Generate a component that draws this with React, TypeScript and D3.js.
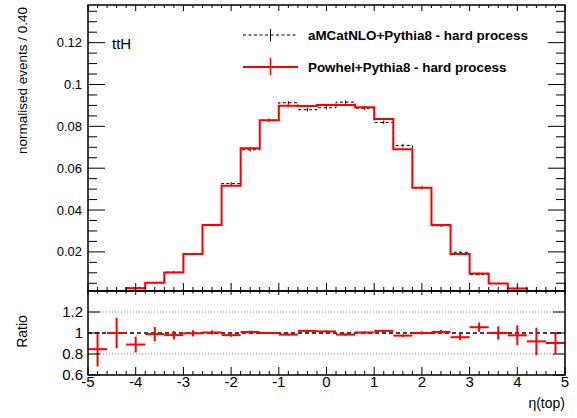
import React from "react";
import * as d3 from "d3";

// Bin edges: 25 bins of width 0.4 in eta(top)
const binLow = -5;
const binWidth = 0.4;

// Powheg+Pythia8 normalised yields per bin
const powhegValues = [
  0.0004, 0.0011, 0.0026, 0.0052, 0.0101, 0.019, 0.0329, 0.0516, 0.0695, 0.0829,
  0.0899, 0.0897, 0.0902, 0.0902, 0.0891, 0.0835, 0.0691, 0.0506, 0.0328, 0.019,
  0.0097, 0.0049, 0.0025, 0.0011, 0.0004,
];

// aMCatNLO+Pythia8 normalised yields per bin
const amcValues = [
  0.00047, 0.0011, 0.00292, 0.00525, 0.0103, 0.01906, 0.03274, 0.05265, 0.06881, 0.0829,
  0.09127, 0.08794, 0.08887, 0.09157, 0.08866, 0.08186, 0.07087, 0.0506, 0.03248, 0.01979,
  0.00919, 0.0049, 0.00256, 0.0012, 0.00044,
];

// statistical uncertainties on the top-panel histograms
const amcErrors = [
  0.0001, 0.0001, 0.0002, 0.0003, 0.0004, 0.0005, 0.0006, 0.0007, 0.0008, 0.0008,
  0.0008, 0.0008, 0.0008, 0.0008, 0.0008, 0.0008, 0.0008, 0.0007, 0.0006, 0.0005,
  0.0004, 0.0003, 0.0002, 0.0001, 0.0001,
];
const powhegErrors = [
  0.0001, 0.0001, 0.0001, 0.0002, 0.0003, 0.0003, 0.0004, 0.0005, 0.0005, 0.0006,
  0.0006, 0.0006, 0.0006, 0.0006, 0.0006, 0.0006, 0.0005, 0.0005, 0.0004, 0.0003,
  0.0003, 0.0002, 0.0001, 0.0001, 0.0001,
];

// Powheg / aMCatNLO ratio and its uncertainty
const ratioValues = [
  0.846, 1.0, 0.89, 0.99, 0.98, 0.997, 1.005, 0.98, 1.01, 1.0,
  0.985, 1.02, 1.015, 0.985, 1.005, 1.02, 0.975, 1.0, 1.01, 0.96,
  1.055, 1.0, 0.978, 0.92, 0.905,
];
const ratioErrors = [
  0.165, 0.145, 0.075, 0.067, 0.04, 0.03, 0.02, 0.015, 0.012, 0.01,
  0.01, 0.01, 0.01, 0.01, 0.01, 0.01, 0.012, 0.015, 0.02, 0.03,
  0.045, 0.063, 0.095, 0.13, 0.1,
];

const xTickValues = [-5, -4, -3, -2, -1, 0, 1, 2, 3, 4, 5];
const yTickValues = [0.02, 0.04, 0.06, 0.08, 0.1, 0.12];
const ratioTickValues = [0.6, 0.8, 1, 1.2];
const ratioGridValues = [0.8, 1.2];

const legendEntries = [
  "aMCatNLO+Pythia8 - hard process",
  "Powhel+Pythia8 - hard process",
];

const FONT = "'Liberation Sans', Arial, Helvetica, sans-serif";

const W = 577;
const H = 418;
const left = 88;
const right = 565;
const topY = 5;
const splitY = 291;
const bottomY = 375;

export default function App() {
  const x = d3.scaleLinear().domain([-5, 5]).range([left, right]);
  const y = d3.scaleLinear().domain([0.0013, 0.138]).range([splitY, topY]);
  const yr = d3.scaleLinear().domain([0.6, 1.4]).range([bottomY, splitY]);

  const bins = powhegValues.map((_, i) => ({
    lo: binLow + i * binWidth,
    hi: binLow + (i + 1) * binWidth,
    c: binLow + (i + 0.5) * binWidth,
  }));

  const stepPath = (vals: number[]) => {
    let d = `M${x(bins[0].lo)},${y(vals[0])}`;
    vals.forEach((v, i) => {
      d += `L${x(bins[i].lo)},${y(v)}L${x(bins[i].hi)},${y(v)}`;
    });
    return d;
  };

  const majorX = xTickValues;
  const minorX = d3.range(-5, 5.0001, 0.2).filter((v) => Math.abs(v - Math.round(v)) > 1e-6);
  const minorY = d3.range(0.005, 0.138, 0.005).filter(
    (v) => !yTickValues.some((t) => Math.abs(t - v) < 1e-6)
  );

  return (
    <svg width={W} height={H} style={{ display: "block", position: "absolute", left: 0, top: 0 }}>
      <rect x={0} y={0} width={W} height={H} fill="#fff" />
      <defs>
        <clipPath id="topClip">
          <rect x={left} y={topY} width={right - left} height={splitY - topY} />
        </clipPath>
        <clipPath id="ratioClip">
          <rect x={left} y={splitY} width={right - left} height={bottomY - splitY} />
        </clipPath>
      </defs>

      {/* ---- top panel: histograms ---- */}
      <g clipPath="url(#topClip)">
        <path d={stepPath(amcValues)} fill="none" stroke="#000" strokeWidth={1} strokeDasharray="3,2.5" />
        {bins.map((b, i) => (
          <line key={"ae" + i} x1={x(b.c)} x2={x(b.c)} y1={y(amcValues[i] - amcErrors[i])}
            y2={y(amcValues[i] + amcErrors[i])} stroke="#000" strokeWidth={1} />
        ))}
        <path d={stepPath(powhegValues)} fill="none" stroke="#ff0000" strokeWidth={2} />
        {bins.map((b, i) => (
          <line key={"pe" + i} x1={x(b.c)} x2={x(b.c)} y1={y(powhegValues[i] - powhegErrors[i])}
            y2={y(powhegValues[i] + powhegErrors[i])} stroke="#ff0000" strokeWidth={1.5} />
        ))}
      </g>

      {/* top panel ticks */}
      <g stroke="#000" strokeWidth={1}>
        {yTickValues.map((v) => (
          <g key={"yt" + v}>
            <line x1={left} x2={left + 17} y1={y(v)} y2={y(v)} />
            <line x1={right} x2={right - 17} y1={y(v)} y2={y(v)} />
          </g>
        ))}
        {minorY.map((v) => (
          <g key={"ym" + v}>
            <line x1={left} x2={left + 9} y1={y(v)} y2={y(v)} />
            <line x1={right} x2={right - 9} y1={y(v)} y2={y(v)} />
          </g>
        ))}
        {majorX.map((v) => (
          <g key={"xt" + v}>
            <line x1={x(v)} x2={x(v)} y1={splitY} y2={splitY - 8} />
            <line x1={x(v)} x2={x(v)} y1={topY} y2={topY + 6} />
          </g>
        ))}
        {minorX.map((v) => (
          <g key={"xm" + v}>
            <line x1={x(v)} x2={x(v)} y1={splitY} y2={splitY - 4} />
            <line x1={x(v)} x2={x(v)} y1={topY} y2={topY + 3} />
          </g>
        ))}
      </g>
      <rect x={left} y={topY} width={right - left} height={splitY - topY} fill="none" stroke="#000" strokeWidth={1.5} />

      {/* top panel tick labels */}
      <g fontFamily={FONT} fontSize={13} fill="#000" textAnchor="end">
        {yTickValues.map((v) => (
          <text key={"yl" + v} x={82} y={y(v) + 4.5}>{d3.format("~g")(v)}</text>
        ))}
      </g>
      <text transform={`translate(27,7) rotate(-90)`} textAnchor="end" fontFamily={FONT} fontSize={13.5}>
        normalised events / 0.40
      </text>
      <text x={112} y={48.5} fontFamily={FONT} fontSize={15}>ttH</text>

      {/* legend */}
      <g>
        <line x1={243} x2={298} y1={35} y2={35} stroke="#000" strokeWidth={1} strokeDasharray="3,2.5" />
        <line x1={270.5} x2={270.5} y1={29} y2={41.5} stroke="#000" strokeWidth={1} />
        <text x={308} y={39.5} fontFamily={FONT} fontSize={13.4} fontWeight="bold">{legendEntries[0]}</text>
        <line x1={243} x2={298} y1={67} y2={67} stroke="#ff0000" strokeWidth={2} />
        <line x1={270.5} x2={270.5} y1={58} y2={75} stroke="#ff0000" strokeWidth={1.5} />
        <text x={308} y={71.5} fontFamily={FONT} fontSize={13.4} fontWeight="bold">{legendEntries[1]}</text>
      </g>

      {/* ---- ratio panel ---- */}
      <g>
        {ratioGridValues.map((v) => (
          <line key={"rg" + v} x1={left} x2={right} y1={yr(v)} y2={yr(v)} stroke="#888" strokeWidth={1} strokeDasharray="1,2" />
        ))}
        <line x1={left} x2={right} y1={yr(1)} y2={yr(1)} stroke="#000" strokeWidth={1.5} strokeDasharray="4,3" />
      </g>
      <g clipPath="url(#ratioClip)" stroke="#ff0000" strokeWidth={2}>
        {bins.map((b, i) => (
          <g key={"r" + i}>
            <line x1={x(b.lo)} x2={x(b.hi)} y1={yr(ratioValues[i])} y2={yr(ratioValues[i])} />
            <line x1={x(b.c)} x2={x(b.c)} y1={yr(ratioValues[i] - ratioErrors[i])} y2={yr(ratioValues[i] + ratioErrors[i])} />
          </g>
        ))}
      </g>
      <g stroke="#000" strokeWidth={1}>
        {[...ratioTickValues, 1.4].map((v) => (
          <g key={"rt" + v}>
            <line x1={left} x2={left + 12} y1={yr(v)} y2={yr(v)} />
            <line x1={right} x2={right - 12} y1={yr(v)} y2={yr(v)} />
          </g>
        ))}
        {majorX.map((v) => (
          <g key={"rxt" + v}>
            <line x1={x(v)} x2={x(v)} y1={bottomY} y2={bottomY - 8} />
            <line x1={x(v)} x2={x(v)} y1={splitY} y2={splitY + 4} />
          </g>
        ))}
        {minorX.map((v) => (
          <g key={"rxm" + v}>
            <line x1={x(v)} x2={x(v)} y1={bottomY} y2={bottomY - 4} />
            <line x1={x(v)} x2={x(v)} y1={splitY} y2={splitY + 2.5} />
          </g>
        ))}
      </g>
      <rect x={left} y={splitY} width={right - left} height={bottomY - splitY} fill="none" stroke="#000" strokeWidth={1.5} />

      <g fontFamily={FONT} fontSize={15} fill="#000">
        {ratioTickValues.map((v) => (
          <text key={"rl" + v} x={83} y={yr(v) + 5} textAnchor="end">{d3.format("~g")(v)}</text>
        ))}
        {xTickValues.map((v) => (
          <text key={"xl" + v} x={x(v)} y={387} textAnchor="middle">{v}</text>
        ))}
      </g>
      <text transform={`translate(27,331.5) rotate(-90)`} textAnchor="middle" fontFamily={FONT} fontSize={14}>
        Ratio
      </text>
      <text x={565} y={408} textAnchor="end" fontFamily={FONT} fontSize={14}>η(top)</text>
    </svg>
  );
}
